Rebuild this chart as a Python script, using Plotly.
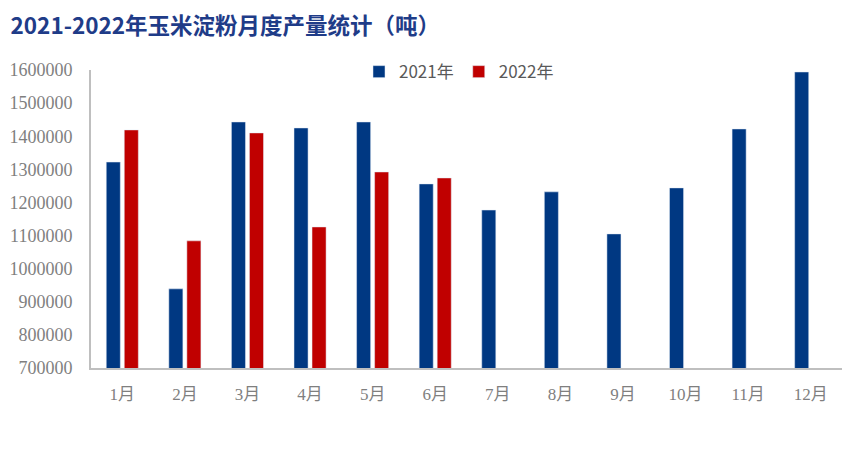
import plotly.graph_objects as go

months = ["1月", "2月", "3月", "4月", "5月", "6月", "7月", "8月", "9月", "10月", "11月", "12月"]
y2021 = [1322000, 939000, 1443000, 1425000, 1443000, 1256000, 1177000, 1232000, 1105000, 1244000, 1422000, 1594000]
y2022 = [1419000, 1084000, 1410000, 1126000, 1292000, 1274000, None, None, None, None, None, None]
yticks = [700000, 800000, 900000, 1000000, 1100000, 1200000, 1300000, 1400000, 1500000, 1600000]

BLUE = "#003882"
RED = "#C00000"
GRAY = "#7F7F7F"

fig = go.Figure()
fig.add_trace(go.Bar(name="2021年", x=months, y=y2021, marker_color=BLUE))
fig.add_trace(go.Bar(name="2022年", x=months, y=y2022, marker_color=RED))

fig.update_layout(
    width=856, height=447,
    paper_bgcolor="white", plot_bgcolor="white",
    margin=dict(l=83, r=22, t=62, b=87, autoexpand=False),
    barmode="group", bargap=0.424, bargroupgap=0.22,
    title=dict(text="<b>2021-2022年玉米淀粉月度产量统计（吨）</b>",
               x=0.003, xanchor="left", y=0.96, yanchor="middle",
               font=dict(family="Noto Sans CJK SC", size=22.5, color="#1F3C88")),
    legend=dict(orientation="h", x=0.49, xanchor="center", y=0.993, yanchor="middle",
                font=dict(family="Noto Sans CJK SC", size=17, color="#595959"),
                bgcolor="rgba(0,0,0,0)", itemwidth=30, traceorder="normal"),
    xaxis=dict(showline=True, linecolor="#BFBFBF", linewidth=2, ticks="",
               tickfont=dict(family="Liberation Serif, Noto Sans CJK SC", size=17, color=GRAY),
               showgrid=False, ticklabelstandoff=10, automargin=False),
    yaxis=dict(range=[700000, 1600000], tickvals=yticks, ticktext=[str(v) for v in yticks],
               showline=True, linecolor="#BFBFBF", linewidth=2, ticks="",
               tickfont=dict(family="Liberation Serif", size=18, color=GRAY),
               showgrid=False, zeroline=False, ticklabelstandoff=13, automargin=False),
)

fig.write_html("out.html")
